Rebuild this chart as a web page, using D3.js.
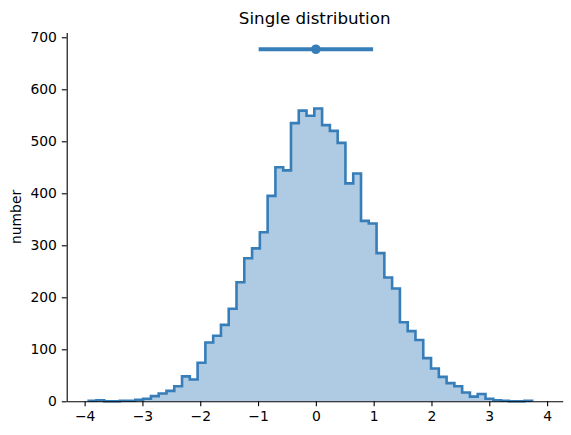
<!DOCTYPE html>
<html>
<head>
<meta charset="utf-8">
<script src="https://cdn.jsdelivr.net/npm/d3@7"></script>
<style>
  body { margin: 0; background: #fff; }
  text { font-family: "DejaVu Sans", sans-serif; }
</style>
</head>
<body>
<svg id="chart" width="571" height="435"></svg>
<script>
// histogram counts (57 equal bins)
var binStart = -3.93;
var binWidth = 0.1346;
var counts = [1, 2, 0, 0, 1, 1, 3, 5, 10, 15, 20, 29, 48, 42, 74, 113, 126, 147, 178,
              229, 275, 294, 325, 395, 450, 444, 535, 559, 549, 563, 531, 520, 497,
              419, 438, 347, 342, 285, 238, 217, 152, 135, 118, 83, 63, 47, 35, 29,
              17, 9, 14, 5, 2, 1, 0, 0, 1];

// mean +/- std drawn above the histogram
var summary = [{ mean: 0.0, lo: -0.99, hi: 0.99, level: 677 }];

var xTicks = [-4, -3, -2, -1, 0, 1, 2, 3, 4];
var yTicks = [0, 100, 200, 300, 400, 500, 600, 700];

var col = "#377eb8";

var svg = d3.select("#chart");

var x = d3.scaleLinear().domain([-4.31, 4.27]).range([66.7, 562.7]);
var y = d3.scaleLinear().domain([0, 709]).range([401.3, 32.6]);

var bins = counts.map(function(c, i) {
   return { x0: binStart + i * binWidth, x1: binStart + (i + 1) * binWidth, n: c };
});

// filled area under the steps
var area = d3.area()
   .curve(d3.curveStepAfter)
   .x(function(d) { return x(d.x); })
   .y0(y(0))
   .y1(function(d) { return y(d.n); });

var pts = bins.map(function(b) { return { x: b.x0, n: b.n }; });
pts.push({ x: bins[bins.length - 1].x1, n: bins[bins.length - 1].n });

svg.append("path")
   .datum(pts)
   .attr("d", area)
   .attr("fill", col)
   .attr("fill-opacity", 0.4)
   .attr("stroke", "none");

// step outline, starting and ending on the baseline
var linePts = [{ x: binStart, n: 0 }].concat(pts).concat([{ x: pts[pts.length - 1].x, n: 0 }]);
var stepLine = d3.line()
   .x(function(d) { return x(d.x); })
   .y(function(d) { return y(d.n); });

var stepVerts = [];
linePts.forEach(function(p, i) {
   if (i > 0 && i < linePts.length - 1) {
      stepVerts.push({ x: p.x, n: linePts[i - 1].n });
   }
   stepVerts.push(p);
});

svg.append("path")
   .datum(stepVerts)
   .attr("d", stepLine)
   .attr("fill", "none")
   .attr("stroke", col)
   .attr("stroke-width", 2.6)
   .attr("stroke-linejoin", "miter");

// summary bar
var sum = svg.selectAll(".summary").data(summary).enter().append("g").attr("class", "summary");
sum.append("line")
   .attr("x1", function(d) { return x(d.lo); })
   .attr("x2", function(d) { return x(d.hi); })
   .attr("y1", function(d) { return y(d.level); })
   .attr("y2", function(d) { return y(d.level); })
   .attr("stroke", col)
   .attr("stroke-width", 4.2);
sum.append("circle")
   .attr("cx", function(d) { return x(d.mean); })
   .attr("cy", function(d) { return y(d.level); })
   .attr("r", 4.8)
   .attr("fill", col);

// axes: only left and bottom spines
var xAxis = svg.append("g")
   .attr("transform", "translate(0," + y(0) + ")")
   .call(d3.axisBottom(x).tickValues(xTicks).tickSizeInner(4.9).tickSizeOuter(0).tickPadding(4.9));
var yAxis = svg.append("g")
   .attr("transform", "translate(" + x.range()[0] + ",0)")
   .call(d3.axisLeft(y).tickValues(yTicks).tickSizeInner(4.9).tickSizeOuter(0).tickPadding(4.9));

[xAxis, yAxis].forEach(function(a) {
   a.select(".domain").attr("stroke", "#000").attr("stroke-width", 1.1);
   a.selectAll(".tick line").attr("stroke", "#000").attr("stroke-width", 1.1);
   a.selectAll(".tick text")
      .attr("fill", "#000")
      .style("font-family", "'DejaVu Sans', sans-serif")
      .style("font-size", "13.9px");
});

svg.append("text")
   .attr("x", (x.range()[0] + x.range()[1]) / 2)
   .attr("y", 24)
   .attr("text-anchor", "middle")
   .style("font-size", "16.7px")
   .text("Single distribution");

svg.append("text")
   .attr("transform", "translate(21," + (y.range()[0] + y.range()[1]) / 2 + ") rotate(-90)")
   .attr("text-anchor", "middle")
   .style("font-size", "13.9px")
   .text("number");
</script>
</body>
</html>
